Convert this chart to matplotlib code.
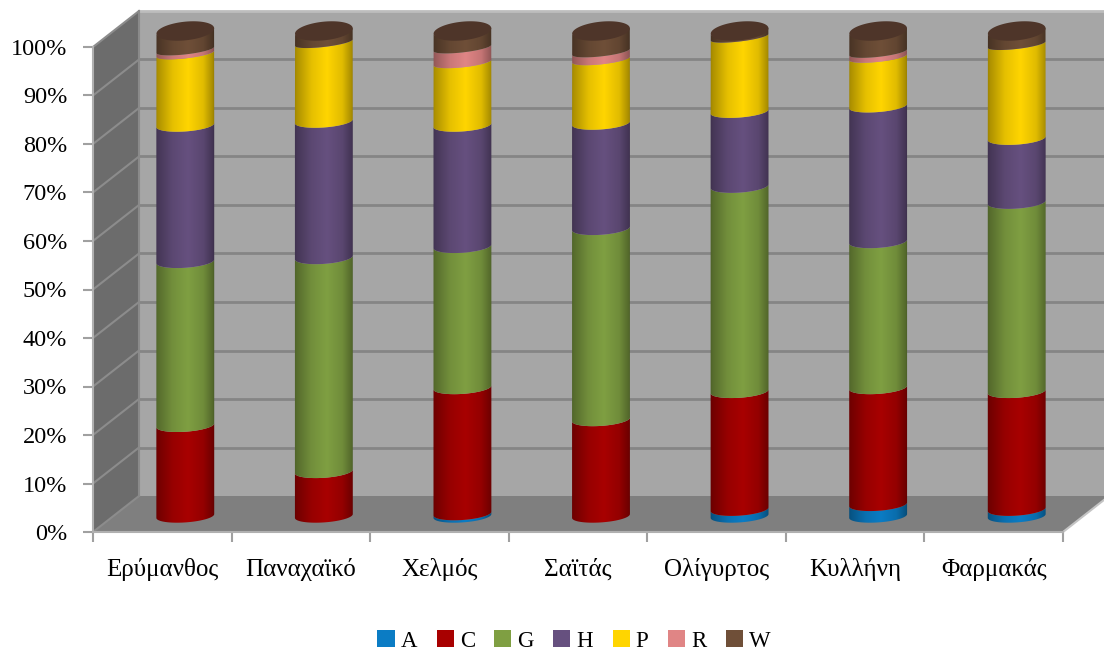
import numpy as np
import matplotlib
matplotlib.use("Agg")
import matplotlib.pyplot as plt
from matplotlib.patches import Polygon, PathPatch, Rectangle
from matplotlib.path import Path

plt.rcParams['font.family'] = ['Liberation Serif', 'DejaVu Serif']

mountains = ["Ερύμανθος", "Παναχαϊκό", "Χελμός", "Σαϊτάς", "Ολίγυρτος", "Κυλλήνη", "Φαρμακάς"]
series_names = ["A", "C", "G", "H", "P", "R", "W"]
share_a = [0, 0, 0.5, 0, 1.4, 2.4, 1.4]
share_c = [18.7, 9.2, 26.0, 19.9, 24.3, 24.1, 24.3]
share_g = [33.8, 44.1, 29.1, 39.4, 42.3, 30.1, 39.0]
share_h = [28.1, 28.1, 25.0, 21.7, 15.4, 27.9, 13.2]
share_p = [14.7, 16.2, 12.9, 13.1, 15.3, 10.1, 19.3]
share_r = [0.8, 0, 3.0, 1.6, 0, 1.0, 0]
share_w = [3.9, 2.4, 3.5, 4.3, 1.3, 4.4, 2.8]
shares = [share_a, share_c, share_g, share_h, share_p, share_r, share_w]
colours = ["#0b7cc4", "#a80000", "#7f9f42", "#66507f", "#ffd500", "#e08585", "#6f4f38"]
cap_colour = "#4e3529"

W, H = 1104, 652
fig = plt.figure(figsize=(W / 100, H / 100), dpi=100)
ax = fig.add_axes([93 / W, 1 - 532 / H, 970 / W, 485 / H])
ax.set_facecolor("none")

# Screen pixels per data unit, used to express the 3D depth in data coordinates
ux = 970 / 7
uy = 485 / 100
depth_x = 46 / ux
depth_y = 36 / uy


def draw_walls():
    ax.add_patch(Polygon([(depth_x, depth_y), (7 + depth_x, depth_y), (7 + depth_x, 100 + depth_y), (depth_x, 100 + depth_y)],
                         fc="#a6a6a6", ec="none", zorder=1, clip_on=False))
    ax.add_patch(Polygon([(0, 0), (depth_x, depth_y), (depth_x, 100 + depth_y), (0, 100)],
                         fc="#6c6c6c", ec="none", zorder=1, clip_on=False))
    ax.add_patch(Polygon([(0, 0), (7, 0), (7 + depth_x, depth_y), (depth_x, depth_y)],
                         fc="#7f7f7f", ec="none", zorder=1, clip_on=False))
    for v in range(0, 101, 10):
        ax.plot([0, depth_x], [v, v + depth_y], color="#8c8c8c", lw=1.5, zorder=2, clip_on=False)
        if v > 0:
            ax.plot([depth_x, 7 + depth_x], [v + depth_y] * 2, color="#858585" if v < 100 else "#bdbdbd",
                    lw=2, zorder=2, clip_on=False)
    ax.plot([depth_x, depth_x], [depth_y, 100 + depth_y], color="#8a8a8a", lw=1.5, zorder=2, clip_on=False)
    ax.plot([7, 7 + depth_x], [0, depth_y], color="#c4c4c4", lw=1.5, zorder=2, clip_on=False)


def rim_points(cx, v, start, stop, n=40, semi_minor=None, tilt_deg=None):
    """Points on the tilted rim of a cylinder at height v, angles in radians."""
    near_top = np.clip((v - 80) / 20, 0, 1)
    a = 29.0
    b = 6.4 - 2.4 * near_top if semi_minor is None else semi_minor
    tilt = np.deg2rad(4.0 + 3.0 * near_top if tilt_deg is None else tilt_deg)
    t = np.linspace(start, stop, n)
    px = a * np.cos(t)
    py = b * np.sin(t)
    dx = px * np.cos(tilt) - py * np.sin(tilt)
    dy = px * np.sin(tilt) + py * np.cos(tilt)
    # rim centres sit midway through the depth of the chart box
    return cx + dx / ux, v + (dy + 16.0) / uy


def shade_strip(colour, path, cx, v0, v1, zorder):
    """Fill a clip path with the horizontal light-to-dark cylinder shading."""
    profile = np.interp(np.linspace(0, 1, 120), [0, 0.06, 0.3, 0.55, 0.8, 0.95, 1],
                        [0.58, 0.68, 0.9, 1.0, 0.88, 0.66, 0.52])
    rgb = np.array(matplotlib.colors.to_rgb(colour))
    strip = (profile[None, :, None] * rgb[None, None, :]).clip(0, 1)
    half = 31 / ux
    im = ax.imshow(strip, extent=(cx - half, cx + half, v0 - 4, v1 + 8), aspect="auto",
                   interpolation="bilinear", zorder=zorder)
    im.set_clip_box(fig.bbox)
    im.set_clip_path(PathPatch(path, transform=ax.transData, fc="none", ec="none"))


draw_walls()

for i in range(len(mountains)):
    cx = i + 0.5 + depth_x / 2
    bottom = 0.0
    for j, share in enumerate(shares):
        value = share[i]
        if value <= 0:
            continue
        top = bottom + value
        xb, yb = rim_points(cx, bottom, np.pi, 2 * np.pi)
        xt, yt = rim_points(cx, top, 2 * np.pi, np.pi)
        verts = np.column_stack([np.r_[xb, xt], np.r_[yb, yt]])
        path = Path(np.vstack([verts, verts[0]]), closed=True)
        shade_strip(colours[j], path, cx, bottom, top, 3 + j * 0.01)
        bottom = top
    # Flat-shaded top face of the cylinder
    xc, yc = rim_points(cx, bottom, 0, 2 * np.pi, 80, semi_minor=9.3, tilt_deg=6.0)
    ax.fill(xc, yc, color=cap_colour, lw=0, zorder=3.5, clip_on=False)

ax.set_xlim(0, 7)
ax.set_ylim(0, 100)

# Axes, ticks and labels on the front edge of the box
for side in ("top", "right"):
    ax.spines[side].set_visible(False)
for side in ("left", "bottom"):
    ax.spines[side].set_color("#b0b0b0")
    ax.spines[side].set_linewidth(1.5)
    ax.spines[side].set_zorder(2.5)
ax.set_yticks(range(0, 101, 10))
ax.set_yticklabels([f"{v}%" for v in range(0, 101, 10)], fontsize=17.5)
ax.set_xticks(range(8))
ax.set_xticklabels([])
ax.set_xticks(np.arange(7) + 0.5, minor=True)
ax.set_xticklabels(mountains, minor=True, fontsize=18)
ax.tick_params(axis="x", which="major", length=7.5, width=1.5, color="#a0a0a0")
ax.tick_params(axis="x", which="minor", length=0, pad=19)
ax.tick_params(axis="y", length=7.5, width=1.5, color="#a0a0a0", pad=11)

handles = [Rectangle((0, 0), 1, 1, fc=c, ec="none") for c in colours]
fig.legend(handles, series_names, loc="center", bbox_to_anchor=(574 / W, 1 - 641 / H), ncol=7,
           frameon=False, fontsize=16.5, handlelength=0.75, handleheight=0.75, handletextpad=0.26,
           columnspacing=0.85)

fig.savefig("out.png", dpi=100, facecolor="white")
